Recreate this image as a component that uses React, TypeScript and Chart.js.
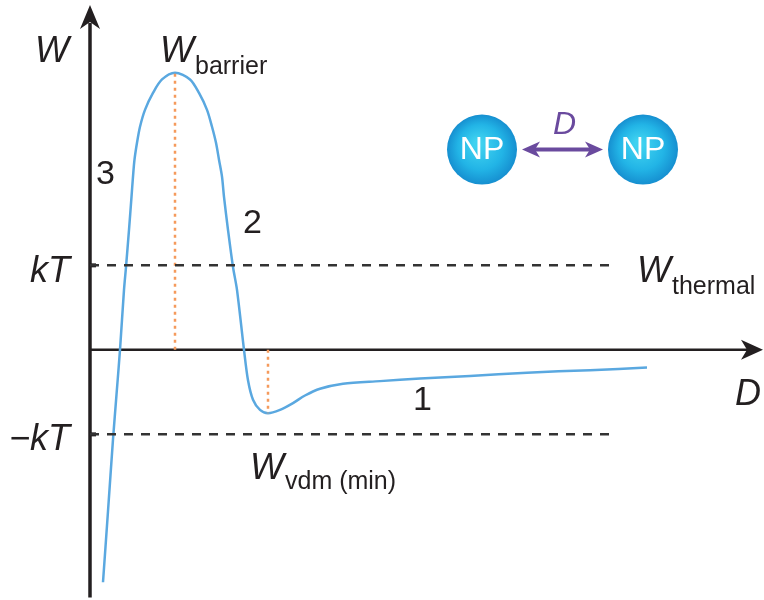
import { useEffect, useRef } from "react";
import { Chart, registerables } from "chart.js";

Chart.register(...registerables);

// Interaction potential W(D) between two nanoparticles (W in units of kT)
const curveD = [
  0.13, 0.18, 0.23, 0.265, 0.3, 0.34, 0.36, 0.39, 0.415, 0.43, 0.445, 0.47, 0.5, 0.55,
  0.63, 0.72, 0.85, 1.0, 1.09, 1.17, 1.22, 1.26, 1.29, 1.32, 1.34, 1.38, 1.43, 1.47,
  1.54, 1.58, 1.63, 1.7, 1.78, 1.9, 2.03, 2.15, 2.3, 2.53, 2.9, 3.3, 3.8, 4.37, 5.0, 5.57,
];
const curveW = [
  -2.75, -1.91, -1.06, -0.53, 0, 0.71, 0.98, 1.42, 1.81, 2.05, 2.25, 2.45, 2.64, 2.84,
  3.04, 3.2, 3.28, 3.2, 3.04, 2.84, 2.64, 2.45, 2.25, 2.05, 1.81, 1.42, 0.98, 0.71,
  0, -0.36, -0.59, -0.71, -0.75, -0.71, -0.63, -0.54, -0.46, -0.4, -0.37, -0.34, -0.31,
  -0.27, -0.24, -0.21,
];

// Thermal energy levels (+kT and -kT) and where their guide lines stop
const thermalLevels = [1, -1];
const thermalEnd = 5.22;

// Axis extents
const dRange = [-0.9, 6.74];
const wRange = [-2.96, 4.14];
const yAxisSpan = [-2.93, 4.08];

// Region labels along the curve
const regionLabels = ["1", "2", "3"];
const regionPos = [
  [3.23, -0.71],
  [1.53, 1.38],
  [0.06, 1.96],
];

const FONT = '"Liberation Sans", Arial, Helvetica, sans-serif';
const INK = "#231f20";
const CURVE = "#5aa8e0";
const ORANGE = "#f59a5c";
const PURPLE = "#6a4a9e";

const peakIdx = curveW.indexOf(Math.max(...curveW));
const wellW = Math.min(...curveW.slice(peakIdx));
const wellIdx = curveW.indexOf(wellW, peakIdx);

const curveData = curveD.map((d, i) => ({ x: d, y: curveW[i] }));

function arrowHead(
  ctx: CanvasRenderingContext2D,
  tx: number,
  ty: number,
  angle: number,
  len: number,
  half: number,
  notch: number
) {
  ctx.save();
  ctx.translate(tx, ty);
  ctx.rotate(angle);
  ctx.beginPath();
  ctx.moveTo(0, 0);
  ctx.lineTo(-len, -half);
  ctx.lineTo(-len + notch, 0);
  ctx.lineTo(-len, half);
  ctx.closePath();
  ctx.fill();
  ctx.restore();
}

const decorPlugin = {
  id: "decor",
  beforeDatasetsDraw(chart: any) {
    const { ctx, scales } = chart;
    const xs = scales.x;
    const ys = scales.y;
    const x0 = xs.getPixelForValue(0);
    const y0 = ys.getPixelForValue(0);
    ctx.save();
    ctx.strokeStyle = INK;
    ctx.fillStyle = INK;
    // vertical W axis
    const yTop = ys.getPixelForValue(yAxisSpan[1]);
    ctx.lineWidth = 3.5;
    ctx.beginPath();
    ctx.moveTo(x0, ys.getPixelForValue(yAxisSpan[0]));
    ctx.lineTo(x0, yTop + 18);
    ctx.stroke();
    arrowHead(ctx, x0, yTop, -Math.PI / 2, 24, 10, 7);
    // horizontal D axis
    const xEnd = xs.getPixelForValue(dRange[1]) - 1;
    ctx.lineWidth = 2.5;
    ctx.beginPath();
    ctx.moveTo(x0, y0);
    ctx.lineTo(xEnd - 16, y0);
    ctx.stroke();
    arrowHead(ctx, xEnd, y0, 0, 22, 10, 6);
    // small ticks at ±kT
    thermalLevels.forEach((lv) => {
      const py = ys.getPixelForValue(lv);
      ctx.fillRect(x0, py - 2, 6, 4);
    });
    ctx.restore();
  },
  afterDatasetsDraw(chart: any) {
    const { ctx, scales } = chart;
    const xs = scales.x;
    const ys = scales.y;
    const px = (v: number) => xs.getPixelForValue(v);
    const py = (v: number) => ys.getPixelForValue(v);
    ctx.save();
    ctx.fillStyle = INK;
    ctx.textBaseline = "alphabetic";

    const italic = `italic 36px ${FONT}`;
    const sub = `25px ${FONT}`;
    const withSub = (x: number, y: number, main: string, s: string, drop: number) => {
      ctx.font = italic;
      ctx.textAlign = "left";
      ctx.fillText(main, x, y);
      const w = ctx.measureText(main).width;
      ctx.font = sub;
      ctx.fillText(s, x + w + 1, y + drop);
    };

    // axis names
    ctx.font = italic;
    ctx.textAlign = "left";
    ctx.fillText("W", px(-0.55), py(3.41));
    ctx.fillText("D", px(6.45), py(-0.65));

    // thermal level labels
    ctx.textAlign = "right";
    ctx.fillText("kT", px(-0.2), py(0.8));
    ctx.fillText("\u2212kT", px(-0.2), py(-1.18));

    // annotated energies
    withSub(px(0.7), py(3.41), "W", "barrier", 12);
    withSub(px(5.47), py(0.8), "W", "thermal", 12);
    withSub(px(1.6), py(-1.53), "W", "vdm (min)", 10);

    // region numbers
    ctx.font = `34px ${FONT}`;
    ctx.textAlign = "left";
    regionLabels.forEach((t, i) => {
      ctx.fillText(t, px(regionPos[i][0]), py(regionPos[i][1]));
    });

    // nanoparticle pair with separation D
    const cy = py(2.37);
    const centers = [px(3.92), px(5.53)];
    const r = 35;
    centers.forEach((cx) => {
      const g = ctx.createRadialGradient(cx - 4, cy - 6, 4, cx, cy, r);
      g.addColorStop(0, "#3fd2f0");
      g.addColorStop(0.6, "#22b4e6");
      g.addColorStop(1, "#168fd0");
      ctx.fillStyle = g;
      ctx.beginPath();
      ctx.arc(cx, cy, r, 0, Math.PI * 2);
      ctx.fill();
      ctx.fillStyle = "#ffffff";
      ctx.font = `32px ${FONT}`;
      ctx.textAlign = "center";
      ctx.textBaseline = "middle";
      ctx.fillText("NP", cx, cy + 1);
    });
    ctx.textBaseline = "alphabetic";
    const ax0 = centers[0] + r + 5;
    const ax1 = centers[1] - r - 5;
    ctx.strokeStyle = PURPLE;
    ctx.fillStyle = PURPLE;
    ctx.lineWidth = 4;
    ctx.beginPath();
    ctx.moveTo(ax0 + 10, cy);
    ctx.lineTo(ax1 - 10, cy);
    ctx.stroke();
    arrowHead(ctx, ax0, cy, Math.PI, 18, 8, 5);
    arrowHead(ctx, ax1, cy, 0, 18, 8, 5);
    ctx.font = `italic 32px ${FONT}`;
    ctx.textAlign = "center";
    ctx.fillText("D", (ax0 + ax1) / 2 + 2, cy - 16);
    ctx.restore();
  },
};

export default function App() {
  const ref = useRef<HTMLCanvasElement | null>(null);

  useEffect(() => {
    if (!ref.current) return;
    const dotted = { borderColor: ORANGE, borderWidth: 2.5, borderDash: [3, 4], pointRadius: 0 };
    const chart = new Chart(ref.current, {
      type: "line",
      data: {
        datasets: [
          ...thermalLevels.map((lv) => ({
            data: [
              { x: 0, y: lv },
              { x: thermalEnd, y: lv },
            ],
            borderColor: "#333333",
            borderWidth: 2.5,
            borderDash: [9, 8],
            pointRadius: 0,
          })),
          {
            data: [
              { x: curveD[peakIdx], y: 0 },
              { x: curveD[peakIdx], y: curveW[peakIdx] },
            ],
            ...dotted,
          },
          {
            data: [
              { x: curveD[wellIdx], y: 0 },
              { x: curveD[wellIdx], y: wellW },
            ],
            ...dotted,
          },
          {
            data: curveData,
            borderColor: CURVE,
            borderWidth: 2.5,
            pointRadius: 0,
            tension: 0.3,
          },
        ],
      },
      options: {
        responsive: false,
        animation: false,
        devicePixelRatio: 1,
        layout: { padding: 0 },
        plugins: { legend: { display: false }, tooltip: { enabled: false } },
        scales: {
          x: { type: "linear", min: dRange[0], max: dRange[1], display: false },
          y: { type: "linear", min: wRange[0], max: wRange[1], display: false },
        },
      },
      plugins: [decorPlugin],
    } as any);
    return () => chart.destroy();
  }, []);

  return (
    <div style={{ position: "absolute", left: 0, top: 0, width: 764, height: 600, background: "#fff" }}>
      <canvas ref={ref} width={764} height={600} />
    </div>
  );
}
